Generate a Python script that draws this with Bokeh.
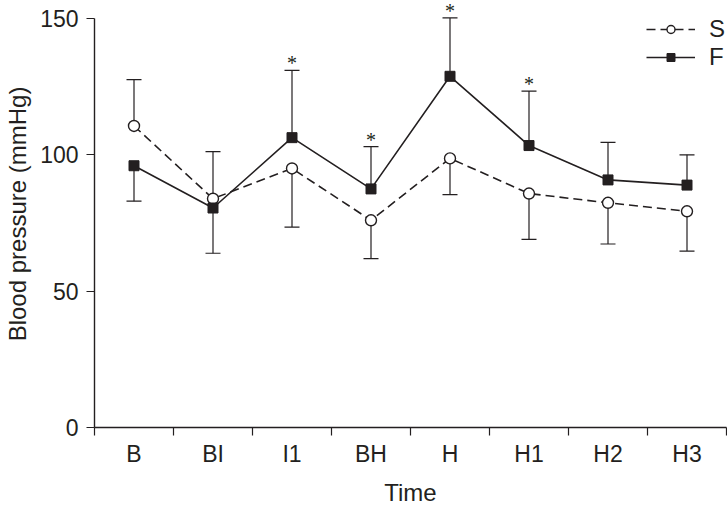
from bokeh.plotting import figure
from bokeh.models import (Range1d, FixedTicker, ColumnDataSource, Legend, LegendItem,
                          LabelSet, LinearAxis)
from bokeh.embed import file_html
from bokeh.resources import INLINE

# ---- data ----
categories = ["B", "BI", "I1", "BH", "H", "H1", "H2", "H3"]
S_mean = [110.6, 83.9, 95.0, 76.0, 98.7, 85.8, 82.4, 79.3]
S_sd = [17.0, 17.3, 21.5, 14.1, 13.3, 16.8, 15.1, 14.6]
F_mean = [96.0, 80.5, 106.3, 87.5, 128.8, 103.4, 90.8, 88.9]
F_sd = [13.0, 16.6, 24.7, 15.5, 21.4, 20.0, 13.8, 11.1]
significant = [0, 0, 1, 1, 1, 1, 0, 0]
y_ticks = [0, 50, 100, 150]

FONT = "Liberation Sans"
INK = "#231f20"

xs = list(range(len(categories)))
# error bar drawn outward from the pair: higher series up, lower series down
S_end = [m + s if m >= f else m - s for m, s, f in zip(S_mean, S_sd, F_mean)]
F_end = [m + s if m > sm else m - s for m, s, sm in zip(F_mean, F_sd, S_mean)]

W, H = 727, 508
# frame reaches the top edge so stars/legend above the 150 tick stay visible;
# the axis line itself is bounded to 0..150
p = figure(width=W, height=H, output_backend="svg", toolbar_location=None,
           x_range=Range1d(-0.5, len(categories) - 0.5), y_range=Range1d(0, 156.6),
           min_border_left=94, min_border_right=1, min_border_top=0, min_border_bottom=79)
p.outline_line_color = None
p.grid.visible = False
p.background_fill_color = "white"
p.border_fill_color = "white"

# error bars
for mean, end in ((S_mean, S_end), (F_mean, F_end)):
    p.segment(x0=xs, y0=mean, x1=xs, y1=end, line_color=INK, line_width=1.2)
    p.scatter(x=xs, y=end, marker="dash", size=15, line_color=INK, line_width=1.2)

# series
s_line = p.line(xs, S_mean, line_color=INK, line_width=1.6, line_dash="9 5")
f_line = p.line(xs, F_mean, line_color=INK, line_width=1.6)
s_pts = p.scatter(xs, S_mean, marker="circle", size=11, fill_color="white",
                  line_color=INK, line_width=1.4)
f_pts = p.scatter(xs, F_mean, marker="square", size=10, fill_color=INK,
                  line_color=INK, line_width=1)

legend = Legend(items=[LegendItem(label="S", renderers=[s_line, s_pts]),
                       LegendItem(label="F", renderers=[f_line, f_pts])],
                location=(552, 356),
                border_line_color=None, background_fill_alpha=0,
                padding=0, margin=0, spacing=0, glyph_width=49, glyph_height=20,
                label_height=20, label_standoff=14, label_text_font=FONT,
                label_text_font_size="24px", label_text_color=INK)
p.add_layout(legend)

# significance stars
star_x = [x for x, s in zip(xs, significant) if s]
star_y = [e for e, s in zip(F_end, significant) if s]
stars = ColumnDataSource(dict(x=star_x, y=star_y, t=["*"] * len(star_x)))
p.add_layout(LabelSet(x="x", y="y", text="t", source=stars, text_align="center",
                      text_baseline="alphabetic", text_font=FONT,
                      text_font_size="20px", text_color=INK))

# axes
xa = p.xaxis[0]
xa.ticker = FixedTicker(ticks=xs, minor_ticks=[x - 0.5 for x in range(len(categories) + 1)])
xa.major_label_overrides = {x: c for x, c in zip(xs, categories)}
xa.major_tick_in = 0
xa.major_tick_out = 0
xa.minor_tick_in = 0
xa.minor_tick_out = 8
xa.minor_tick_line_color = INK
xa.minor_tick_line_width = 1.2
xa.major_label_standoff = 5

# second (bare) axis below only to carry the "Time" title further down
xt = LinearAxis(ticker=FixedTicker(ticks=[], minor_ticks=[]), axis_label="Time",
                axis_line_color=None, major_tick_line_color=None,
                minor_tick_line_color=None, axis_label_standoff=9,
                axis_label_text_font=FONT, axis_label_text_font_size="24px",
                axis_label_text_font_style="normal", axis_label_text_color=INK)
p.add_layout(xt, "below")

ya = p.yaxis[0]
ya.ticker = FixedTicker(ticks=y_ticks, minor_ticks=[])
ya.bounds = (y_ticks[0], y_ticks[-1])
ya.major_tick_in = 0
ya.major_tick_out = 8
ya.major_tick_line_color = INK
ya.major_tick_line_width = 1.2
ya.axis_label = "Blood pressure (mmHg)"
ya.axis_label_text_font = FONT
ya.axis_label_text_font_size = "24px"
ya.axis_label_text_font_style = "normal"
ya.axis_label_text_color = INK
ya.major_label_standoff = 8
ya.axis_label_standoff = 6

for ax in (xa, ya):
    ax.axis_line_color = INK
    ax.axis_line_width = 1.4
    ax.major_label_text_font = FONT
    ax.major_label_text_font_size = "23px"
    ax.major_label_text_color = INK

open("out.html", "w").write(file_html(p, INLINE))
